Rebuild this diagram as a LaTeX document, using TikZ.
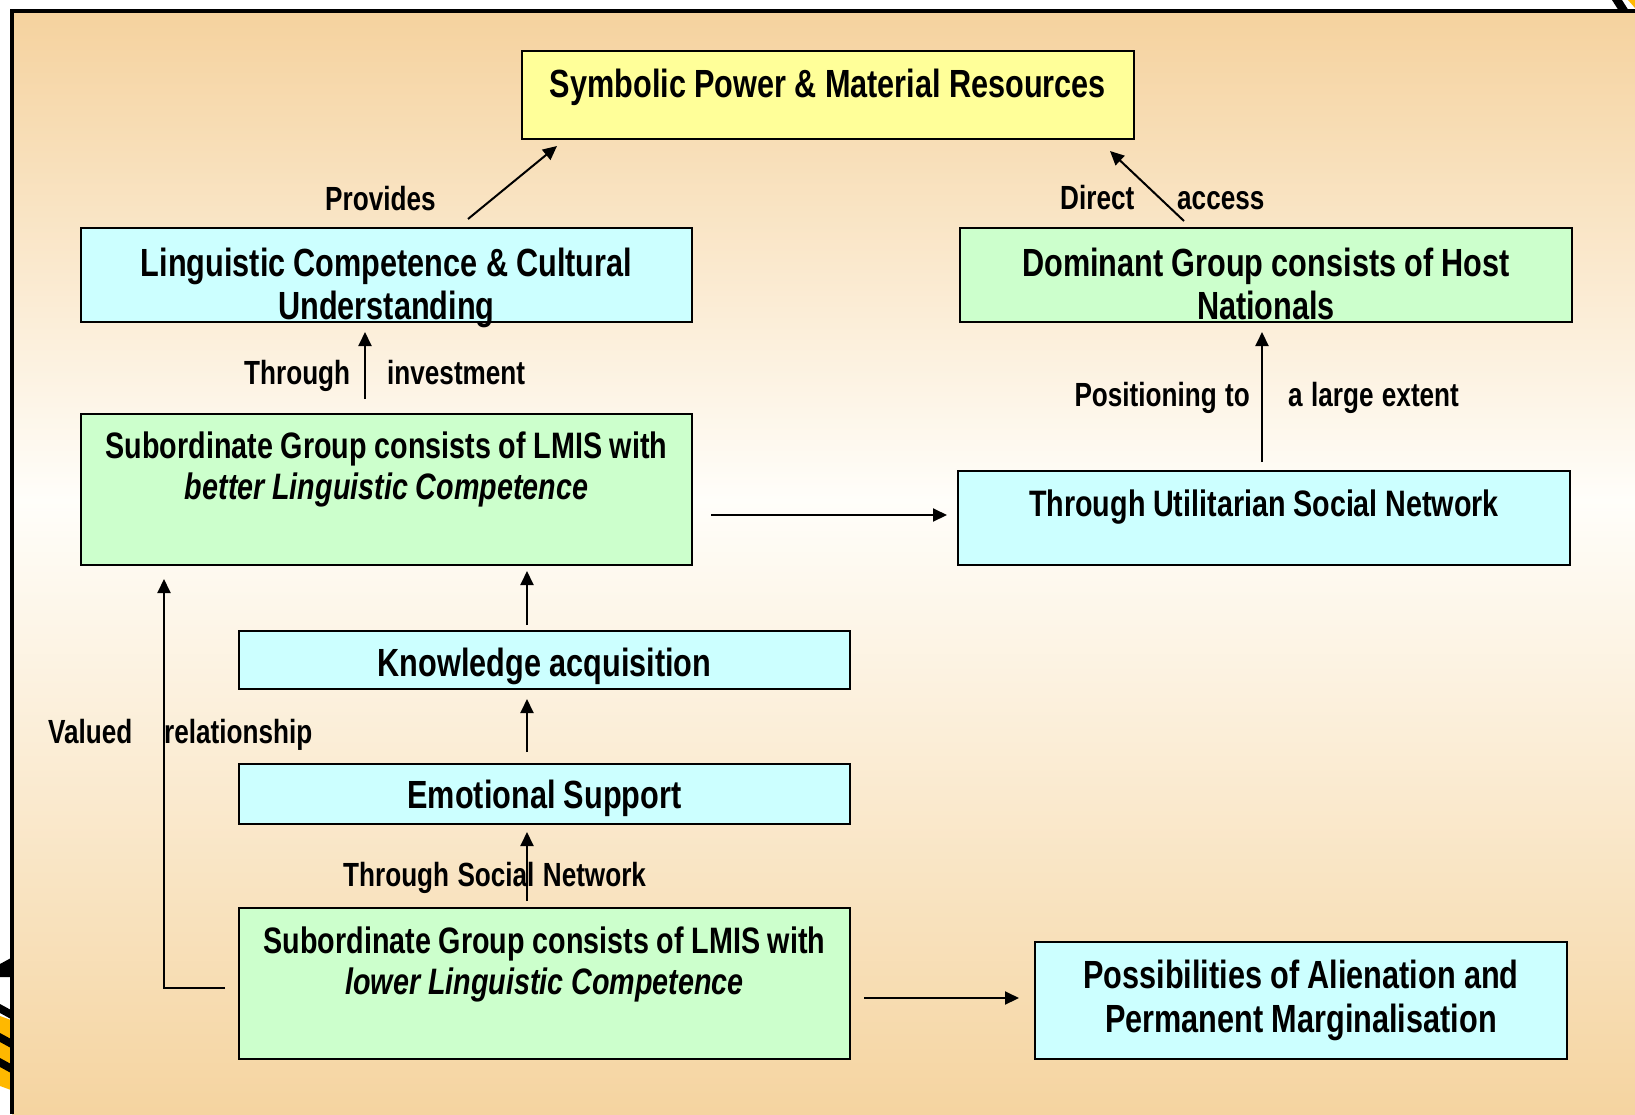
\documentclass[tikz,border=0pt]{standalone}
\usepackage{fontspec}
\setmainfont{Liberation Sans}[FakeStretch=0.78, WordSpace=0.72]
\usetikzlibrary{arrows.meta}

\definecolor{peach}{RGB}{245,210,158}
\definecolor{peachlow}{RGB}{245,212,160}
\definecolor{paleglow}{RGB}{255,254,250}
\definecolor{boxyellow}{RGB}{255,255,153}
\definecolor{boxcyan}{RGB}{204,255,255}
\definecolor{boxgreen}{RGB}{204,255,204}
\definecolor{tapeyellow}{RGB}{255,184,0}

\newcommand\cardfont{\fontsize{39.3}{43}\selectfont\bfseries}
\newcommand\possfont{\fontsize{39.3}{44}\selectfont\bfseries}
\newcommand\groupfont{\fontsize{36.8}{41}\selectfont\bfseries}
\newcommand\tagfont{\fontsize{33.5}{36}\selectfont\bfseries}

\begin{document}
\begin{tikzpicture}[x=1pt,y=-1pt,
  box/.style={draw=black, line width=2.2pt, inner sep=0pt, outer sep=0pt,
              anchor=north west, align=center,
              execute at begin node={\spaceskip=0.21em\relax}},
  tag/.style={inner sep=0pt, anchor=base west, font=\tagfont,
              execute at begin node={\spaceskip=0.25em\relax}},
  tagr/.style={tag, anchor=base east},
  link/.style={line width=2pt, -{Triangle[length=14pt,width=13pt]}}]
\useasboundingbox (0,0) rectangle (1635,1114);

% slide background: peach fading to white in the middle and back
\shade[top color=peach, bottom color=paleglow] (12,11) rectangle (1635,501);
\shade[top color=paleglow, bottom color=peachlow] (12,500) rectangle (1635,1114);

% hazard tape peeking out behind the frame
\fill (0,964) -- (11,958) -- (11,977) -- (0,977) -- cycle;
\fill[tapeyellow] (0,1016) -- (11,1020) -- (11,1090) -- (0,1086) -- cycle;
\fill (0,1004) -- (11,1010) -- (11,1019) -- (0,1013) -- cycle;
\fill (0,1033) -- (11,1039) -- (11,1048) -- (0,1042) -- cycle;
\fill (0,1058) -- (11,1064) -- (11,1073) -- (0,1067) -- cycle;
\fill (1612,0) -- (1622,0) -- (1629,11) -- (1619,11) -- cycle;
\fill[tapeyellow] (1628,0) -- (1635,0) -- (1635,8) -- cycle;

% frame
\draw[line width=4pt] (12,1114) -- (12,11) -- (1635,11);

% boxes
\node[box, fill=boxyellow, text width=612pt, text height=46pt, text depth=42pt, font=\cardfont]
  (sym) at (522,51) {Symbolic Power \& Material Resources};
\node[box, fill=boxcyan, text width=611pt, text height=48pt, text depth=46pt, font=\cardfont]
  (ling) at (81,228) {Linguistic Competence \& Cultural\\Understanding};
\node[box, fill=boxgreen, text width=612pt, text height=48pt, text depth=46pt, font=\cardfont]
  (dom) at (960,228) {Dominant Group consists of Host\\Nationals};
\node[box, fill=boxgreen, text width=611pt, text height=44pt, text depth=107pt, font=\groupfont]
  (subB) at (81,414) {Subordinate Group consists of LMIS with\\\textit{better Linguistic Competence}};
\node[box, fill=boxcyan, text width=612pt, text height=45pt, text depth=49pt, font=\groupfont]
  (util) at (958,471) {Through Utilitarian Social Network};
\node[box, fill=boxcyan, text width=611pt, text height=45pt, text depth=13pt, font=\cardfont]
  (know) at (239,631) {Knowledge acquisition};
\node[box, fill=boxcyan, text width=611pt, text height=44pt, text depth=16pt, font=\cardfont]
  (emo) at (239,764) {Emotional Support};
\node[box, fill=boxgreen, text width=611pt, text height=45pt, text depth=106pt, font=\groupfont]
  (subL) at (239,908) {Subordinate Group consists of LMIS with\\\textit{lower Linguistic Competence}};
\node[box, fill=boxcyan, text width=532pt, text height=46pt, text depth=71pt, font=\possfont]
  (poss) at (1035,942) {Possibilities of Alienation and\\Permanent Marginalisation};

% connectors
\draw[link] ([xshift=81.5pt,yshift=9pt]ling.north) -- ([xshift=35pt,yshift=-7pt]sym.south west);
\draw[link] ([xshift=-82pt,yshift=7pt]dom.north) -- ([xshift=-24pt,yshift=-12pt]sym.south east);
\draw[link] ([xshift=-21.5pt,yshift=15pt]subB.north) -- ([xshift=-21.5pt,yshift=-10pt]ling.south);
\draw[link] ([xshift=-2pt,yshift=9pt]util.north) -- ([xshift=-4pt,yshift=-10pt]dom.south);
\draw[link] ([xshift=19pt,yshift=-25.5pt]subB.east) -- ([xshift=-11pt,yshift=3pt]util.west);
\draw[link] ([xshift=-17.5pt,yshift=6pt]know.north) -- ([xshift=140.5pt,yshift=-6pt]subB.south);
\draw[link] ([xshift=-17.5pt,yshift=12pt]emo.north) -- ([xshift=-17.5pt,yshift=-10pt]know.south);
\draw[link] ([xshift=-17.5pt,yshift=7pt]subL.north) -- ([xshift=-17.5pt,yshift=-8pt]emo.south);
\draw[link] ([xshift=-14pt,yshift=-4.5pt]subL.west) -| ([xshift=83pt,yshift=-14pt]subB.south west);
\draw[link] ([xshift=14pt,yshift=-14.5pt]subL.east) -- ([xshift=-16pt,yshift=2.5pt]poss.west);

% connector labels
\node[tag] (tProv) at (325,210) {Provides};
\node[tag] (tDir) at (1060,209) {Direct};
\node[tag] (tAcc) at (1177,209) {access};
\node[tag] (tThr) at (244,384) {Through};
\node[tag] (tInv) at (387,384) {investment};
\node[tagr] (tPos) at (1250,406) {Positioning to};
\node[tag] (tExt) at (1288,406) {a large extent};
\node[tag] (tVal) at (48,743) {Valued};
\node[tag] (tRel) at (164,743) {relationship};
\node[tag] (tNet) at (343,886) {Through Social Network};
\end{tikzpicture}
\end{document}
